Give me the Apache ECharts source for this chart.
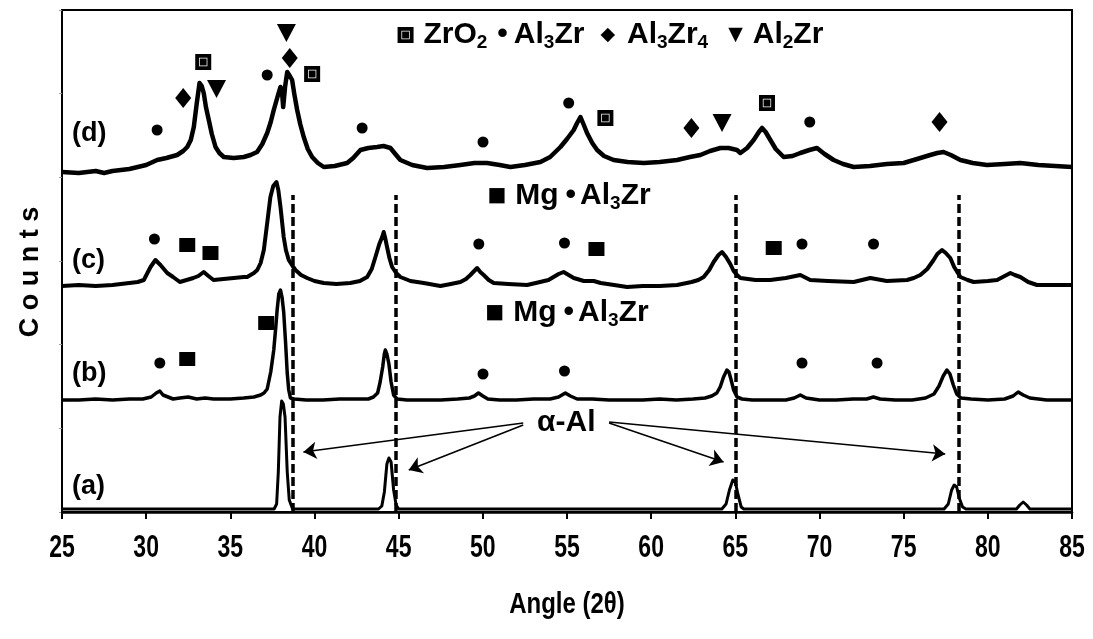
<!DOCTYPE html>
<html>
<head>
<meta charset="utf-8">
<script src="https://cdn.jsdelivr.net/npm/echarts@6/dist/echarts.min.js"></script>
<style>
  html, body { margin: 0; padding: 0; background: #fff; }
  #chart { width: 1093px; height: 639px; }
</style>
</head>
<body>
<div id="chart"></div>
<script>
// XRD patterns, stacked with vertical offsets: [2θ (deg), offset counts]
const traceA = [
  [25,3],[27,3],[29,3],[31,3],[33,3],[35,3],[36.5,3],[37.6,3],[37.75,8],[37.85,40],[37.95,95],[38.05,111],
  [38.15,108],[38.25,95],[38.38,40],[38.5,12],[38.7,3],[40,3],[42,3],[43.8,3],[44.0,6],[44.15,20],
  [44.3,48],[44.42,54],[44.55,50],[44.7,22],[44.85,7],[45.0,3],[47,3],[50,3],[53,3],[56,3],[59,3],
  [62,3],[64.2,3],[64.45,8],[64.65,22],[64.85,32],[65.0,30],[65.15,18],[65.35,5],[65.5,3],[68,3],
  [71,3],[74,3],[77.4,3],[77.65,8],[77.85,22],[78.0,27],[78.15,25],[78.3,14],[78.5,5],[78.7,3],
  [80,3],[81.7,3],[81.9,7],[82.1,10],[82.3,7],[82.5,3],[84,3],[85,3]
];
const traceB = [
  [25,112],[26,112],[27,113],[28,112],[29,113],[29.8,113],[30.3,115],[30.6,119],[30.81,121],[31.0,117],
  [31.3,115],[31.6,113],[32,114],[32.5,115],[33,113],[33.5,114],[34,113],[35,113],[35.8,114],[36.4,115],
  [36.8,117],[37.0,119],[37.19,123],[37.4,140],[37.58,162],[37.7,185],[37.78,202],[37.88,218],[37.98,222],
  [38.07,215],[38.17,200],[38.28,170],[38.38,139],[38.47,122],[38.57,114],[38.8,113],[39.5,112],[40.5,112],
  [41.5,113],[42.5,113],[43.2,113],[43.5,115],[43.75,119],[43.9,130],[44.05,145],[44.15,158],[44.21,162],
  [44.3,158],[44.42,148],[44.55,130],[44.7,117],[44.9,113],[45.5,112],[46.5,112],[47.5,112],[48.5,113],
  [49.2,114],[49.5,116],[49.74,119],[50.0,116],[50.3,113],[51,112],[52,112],[53,113],[54,113],[54.5,115],
  [54.9,119],[55.2,116],[55.6,113],[56.5,113],[57.5,112],[58.5,112],[59.5,112],[60.5,113],[61.5,112],
  [62.5,113],[63.2,114],[63.6,116],[63.9,119],[64.1,125],[64.3,135],[64.5,142],[64.62,140],[64.75,132],
  [64.9,122],[65.1,115],[65.4,113],[66,112],[67,112],[68,112],[68.5,114],[68.86,117],[69.2,114],[70,112],
  [71,112],[72,113],[72.8,113],[73.2,115],[73.6,113],[74.5,112],[75.5,112],[76.3,114],[76.8,118],[77.1,126],
  [77.35,136],[77.57,142],[77.75,138],[77.95,127],[78.15,118],[78.4,114],[79,113],[80,112],[81,113],
  [81.5,116],[81.8,120],[82.1,117],[82.5,114],[83.5,112],[84.5,112],[85,112]
];
const traceC = [
  [25,226],[26,227],[27,226],[28,227],[29,229],[29.5,230],[29.86,232],[30.26,245],[30.55,252],[30.85,247],
  [31.25,239],[31.6,235],[32.0,230],[32.4,232],[32.8,234],[33.1,236],[33.42,240],[33.7,236],[34.0,232],
  [34.6,233],[35.2,234],[35.8,235],[36.0,235],[36.4,239],[36.6,242],[36.8,249],[36.99,262],[37.19,289],
  [37.38,315],[37.55,326],[37.74,330],[37.85,322],[37.98,305],[38.17,275],[38.3,262],[38.47,252],[38.7,246],
  [38.87,242],[39.2,237],[39.56,234],[40.0,231],[40.55,229],[41.3,228],[42.13,229],[42.7,231],[43.13,235],
  [43.4,243],[43.62,255],[43.85,268],[44.02,275],[44.11,280],[44.2,274],[44.31,265],[44.45,254],[44.61,245],
  [44.85,239],[45.1,235],[45.7,231],[46.49,229],[47.48,226],[48.1,228],[48.67,230],[49.0,233],[49.26,237],
  [49.66,244],[49.85,240],[50.05,237],[50.35,232],[50.65,229],[51.5,228],[52.63,227],[53.4,230],[53.9,232],
  [54.2,235],[54.5,238],[54.8,240],[55.1,237],[55.4,234],[56.0,231],[56.59,231],[57.0,229],[57.8,227],
  [58.57,225],[59.5,226],[60.5,226],[61.54,227],[62.4,230],[62.8,232],[63.12,235],[63.45,242],[63.71,250],
  [64.0,257],[64.21,260],[64.45,255],[64.7,248],[64.9,241],[65.1,237],[65.3,234],[66.2,232],[67.07,232],
  [68.0,234],[68.86,237],[69.45,232],[70.5,231],[72.03,230],[73.02,234],[74.0,231],[75.2,232],[75.6,234],
  [75.99,237],[76.4,243],[76.78,252],[77.0,258],[77.28,262],[77.5,259],[77.77,254],[78.0,245],[78.37,235],
  [78.8,232],[79.16,230],[80.0,231],[80.55,232],[81.0,236],[81.34,239],[81.6,237],[81.93,235],[82.4,230],
  [82.92,227],[84,227],[85,227]
];
const traceD = [
  [25.0,340],[26,339],[27,341],[27.5,339],[28,341],[28.5,342],[29,343],[29.5,345],[30,347],[30.65,352],
  [31.2,354],[31.84,357],[32.2,361],[32.44,365],[32.65,372],[32.83,385],[33.0,408],[33.17,429],[33.3,426],
  [33.42,419],[33.55,405],[33.72,392],[33.9,378],[34.12,365],[34.35,359],[34.61,355],[35.2,354],[35.8,355],
  [36.2,357],[36.59,360],[36.9,368],[37.19,379],[37.4,390],[37.58,402],[37.8,415],[37.98,425],[38.08,418],
  [38.14,405],[38.25,425],[38.38,440],[38.5,437],[38.67,432],[38.8,418],[38.97,402],[39.15,388],[39.36,375],
  [39.6,363],[39.86,355],[40.2,349],[40.55,345],[41.2,346],[41.94,349],[42.3,354],[42.73,362],[43.2,364],
  [43.72,365],[44.1,366],[44.51,364],[44.8,358],[45.1,352],[45.8,347],[46.69,344],[47.7,345],[48.67,347],
  [49.5,349],[50.25,349],[51.0,347],[51.64,345],[52.5,347],[53.42,350],[54.0,355],[54.61,365],[55.0,373],
  [55.4,382],[55.6,389],[55.8,395],[56.0,387],[56.19,379],[56.5,369],[56.79,362],[57.2,356],[57.77,352],
  [58.6,350],[59.56,349],[60.5,350],[61.54,352],[62.3,355],[62.92,357],[63.5,361],[64.11,364],[64.6,364],
  [65.1,362],[65.3,359],[65.7,364],[66.09,372],[66.4,380],[66.59,384],[66.8,380],[67.08,372],[67.4,363],
  [67.87,355],[68.4,356],[68.86,359],[69.4,362],[69.85,364],[70.3,358],[70.84,352],[71.4,348],[72.03,345],
  [73,346],[74,348],[75,349],[75.8,353],[76.58,357],[77.0,359],[77.37,360],[77.8,357],[78.37,352],[79.1,349],
  [79.95,347],[81,348],[81.93,349],[83,347],[84,346],[85,345]
];

// phase markers placed above the reflections (the first ZrO2 entry is the key symbol)
const zro2Marks  = [[45.41,477],[33.39,450],[39.86,438],[57.28,394],[66.88,409]];
const al3zrMarks = [[30.65,382],[37.19,437],[42.83,384],[50.01,370],[55.1,409],[69.42,390],
                    [30.49,273],[49.76,268],[54.85,269],[68.96,268],[73.21,268],
                    [30.81,149],[50.01,138],[54.85,141],[68.96,149],[73.42,149]];
const al3zr4Marks = [[32.2,414],[38.53,454],[62.39,384],[77.13,390]];
const al2zrMarks  = [[34.18,423],[38.33,479],[64.21,389]];
const mgMarks     = [[32.44,267],[33.82,259],[56.75,263],[67.28,264],[37.13,189],[32.44,153]];

// α-Al reference lines and arrows
const alLines = [38.7, 44.8, 65.0, 78.3];
const alLineTop = 317;
const alArrows = [
  [[52.4,89],[39.34,60]],
  [[52.4,87],[45.6,42]],
  [[57.5,89],[64.3,50]],
  [[57.5,90],[77.47,58]]
];

// text annotations: [2θ, offset, text]
const traceLabels = [[25.6,378,'(d)'],[25.6,251,'(c)'],[25.6,138,'(b)'],[25.6,25,'(a)']];
const phaseKeys = [
  [46.47,477,'{t|ZrO}{s|2}{w10| }{t|•}{w6| }{t|Al}{s|3}{t|Zr}{w16| }{sym|◆}{w12| }{t|Al}{s|3}{t|Zr}{s|4}{w20| }{sym|▼}{w10| }{t|Al}{s|2}{t|Zr}'],
  [50.27,316,'{sq|■}{w9| }{t|Mg}{w7| }{t|•}{w4| }{t|Al}{s|3}{t|Zr}'],
  [50.15,199,'{sq|■}{w9| }{t|Mg}{w7| }{t|•}{w4| }{t|Al}{s|3}{t|Zr}'],
  [53.22,89,'{t|α-Al}']
];
const xTicks = [25, 30, 35, 40, 45, 50, 55, 60, 65, 70, 75, 80, 85];
const xTitle = 'Angle (2θ)';
const yTitle = 'C o u n t s';

const BOLD = 'Liberation Sans';
const richText = {
  t:   { fontFamily: BOLD, fontWeight: 'bold', fontSize: 30, color: '#000' },
  s:   { fontFamily: BOLD, fontWeight: 'bold', fontSize: 19, color: '#000', padding: [16, 0, 0, 0] },
  sq:  { fontFamily: 'DejaVu Sans', fontSize: 20, color: '#000' },
  sym: { fontFamily: 'DejaVu Sans', fontSize: 19, color: '#000' },
  w4: { width: 4 }, w6: { width: 6 }, w7: { width: 7 }, w9: { width: 9 }, w10: { width: 10 },
  w12: { width: 12 }, w16: { width: 16 }, w20: { width: 20 }
};

// dark square with a faint inner ring
const zro2Symbol = 'path://M0,0L15,0L15,15L0,15Z M3.6,3.6L3.6,11.4L11.4,11.4L11.4,3.6Z M4.3,4.3L10.7,4.3L10.7,10.7L4.3,10.7Z';

function trace(data, width) {
  return { type: 'line', data: data, symbol: 'none', smooth: false, z: 3,
           lineStyle: { color: '#000', width: width, join: 'round' } };
}
function marks(data, symbol, size, extra) {
  return Object.assign({ type: 'scatter', data: data, symbol: symbol, symbolSize: size, z: 4,
           itemStyle: { color: '#000', opacity: 1 } }, extra || {});
}
function texts(items, fontSize) {
  return { type: 'scatter', symbolSize: 0, z: 5, silent: true,
    itemStyle: { color: '#000', opacity: 1 },
    data: items.map(d => ({ value: [d[0], d[1]], text: d[2] })),
    label: { show: true, position: 'right', distance: 0, formatter: p => p.data.text, opacity: 1,
             fontFamily: BOLD, fontWeight: 'bold', fontSize: fontSize, color: '#000', rich: richText } };
}

const chart = echarts.init(document.getElementById('chart'), null, { renderer: 'canvas' });
chart.setOption({
  animation: false,
  backgroundColor: '#fff',
  grid: { left: 62, right: 21, top: 10, bottom: 127, show: true, borderColor: '#000', borderWidth: 2 },
  xAxis: {
    type: 'value', min: xTicks[0], max: xTicks[xTicks.length - 1], interval: xTicks[1] - xTicks[0],
    axisLine: { lineStyle: { color: '#000', width: 2.5 } },
    axisTick: { show: true, inside: false, length: 7, lineStyle: { color: '#000', width: 2 } },
    axisLabel: { show: false },
    splitLine: { show: false }
  },
  yAxis: {
    type: 'value', min: 0, max: 502, interval: 502 / 6,
    name: yTitle, nameLocation: 'middle', nameGap: 18, nameRotate: 90,
    nameTextStyle: { fontFamily: BOLD, fontWeight: 'bold', fontSize: 27, color: '#000', padding: [0, 22, 0, 0] },
    axisLine: { show: true, lineStyle: { color: '#000', width: 2 } },
    axisTick: { show: true, inside: false, length: 3, lineStyle: { color: '#999', width: 1 } },
    axisLabel: { show: false },
    splitLine: { show: false }
  },
  series: [
    trace(traceA, 3),
    trace(traceB, 3.5),
    trace(traceC, 4),
    trace(traceD, 4.5),
    {
      type: 'line', data: [], symbol: 'none', z: 2,
      markLine: {
        silent: true, symbol: ['none', 'none'], label: { show: false },
        lineStyle: { color: '#000', width: 3.5, type: [9, 4] },
        data: alLines.map(x => [{ coord: [x, 0] }, { coord: [x, alLineTop] }])
      }
    },
    {
      type: 'lines', coordinateSystem: 'cartesian2d', z: 4, silent: true,
      symbol: ['none', 'arrow'], symbolSize: 13,
      lineStyle: { color: '#000', width: 1.6, opacity: 1 },
      data: alArrows.map(a => ({ coords: a }))
    },
    marks(zro2Marks, zro2Symbol, 16),
    marks(al3zrMarks, 'circle', 11),
    marks(al3zr4Marks, 'diamond', [16, 20]),
    marks(al2zrMarks, 'triangle', [19, 18], { symbolRotate: 180 }),
    marks(mgMarks, 'rect', [16, 14]),
    texts(traceLabels, 27),
    texts(phaseKeys, 30)
  ]
});

// condensed tick labels and axis title, positioned from the x axis scale
const axisY = chart.convertToPixel({ yAxisIndex: 0 }, 0);
const midX = chart.convertToPixel({ xAxisIndex: 0 }, (xTicks[0] + xTicks[xTicks.length - 1]) / 2);
const textEls = xTicks.map(v => ({
  type: 'text', silent: true,
  x: chart.convertToPixel({ xAxisIndex: 0 }, v), y: axisY + 36, scaleX: 0.72,
  style: { text: String(v), font: 'bold 32px "Liberation Sans"', fill: '#000', align: 'center', verticalAlign: 'middle' }
}));
textEls.push({
  type: 'text', silent: true, x: midX, y: axisY + 93, scaleX: 0.8,
  style: { text: xTitle, font: 'bold 30px "Liberation Sans"', fill: '#000', align: 'center', verticalAlign: 'middle' }
});
chart.setOption({ graphic: { elements: textEls } });
</script>
</body>
</html>
